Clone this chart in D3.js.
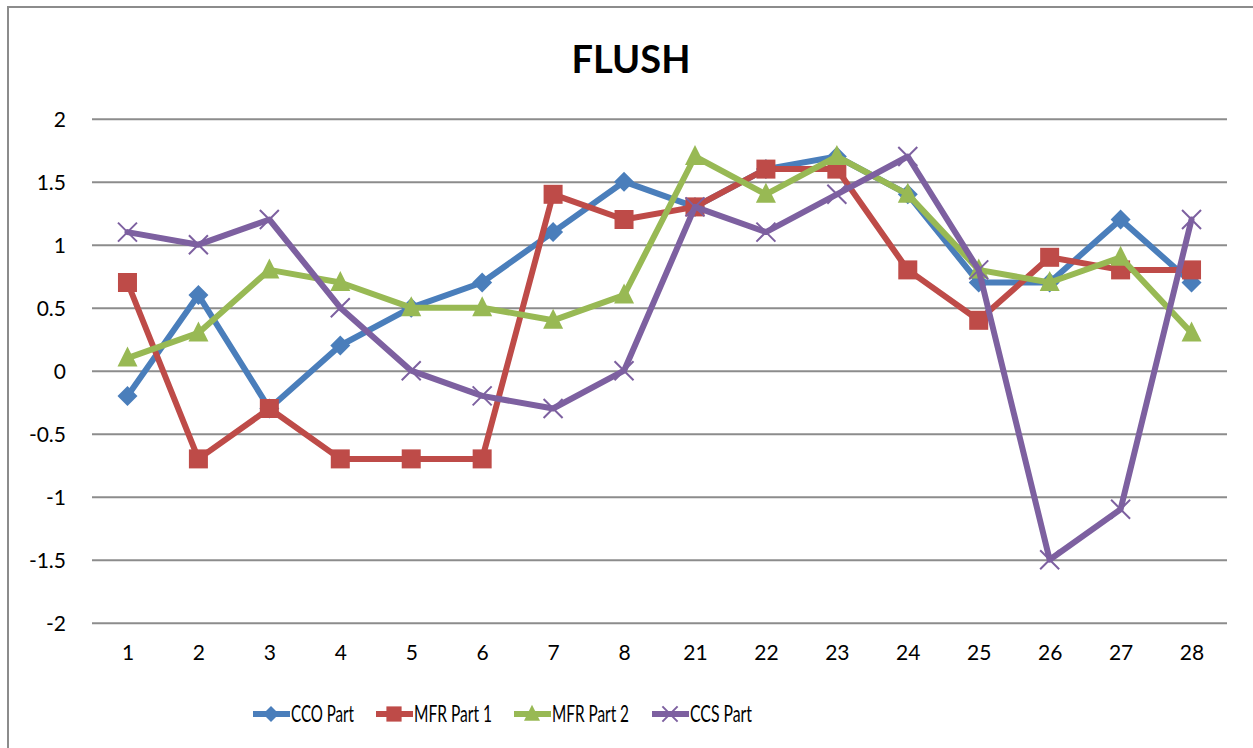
<!DOCTYPE html>
<html>
<head>
<meta charset="utf-8">
<script src="https://cdn.jsdelivr.net/npm/d3@7"></script>
<style>
  body { margin: 0; background: #fff; }
  text { font-family: Lato, "Open Sans", sans-serif; fill: #000; }
</style>
</head>
<body>
<svg id="chart" width="1253" height="748"></svg>
<script>
const categories = ['1', '2', '3', '4', '5', '6', '7', '8', '21', '22', '23', '24', '25', '26', '27', '28'];
const ccoPart  = [-0.2, 0.6, -0.3, 0.2, 0.5, 0.7, 1.1, 1.5, 1.3, 1.6, 1.7, 1.4, 0.7, 0.7, 1.2, 0.7];
const mfrPart1 = [0.7, -0.7, -0.3, -0.7, -0.7, -0.7, 1.4, 1.2, 1.3, 1.6, 1.6, 0.8, 0.4, 0.9, 0.8, 0.8];
const mfrPart2 = [0.1, 0.3, 0.8, 0.7, 0.5, 0.5, 0.4, 0.6, 1.7, 1.4, 1.7, 1.4, 0.8, 0.7, 0.9, 0.3];
const ccsPart  = [1.1, 1.0, 1.2, 0.5, 0.0, -0.2, -0.3, 0.0, 1.3, 1.1, 1.4, 1.7, 0.8, -1.5, -1.1, 1.2];
const yTicks = [-2, -1.5, -1, -0.5, 0, 0.5, 1, 1.5, 2];

const series = [
  {name: 'CCO Part', values: ccoPart, color: '#4A7EBB', marker: 'diamond'},
  {name: 'MFR Part 1', values: mfrPart1, color: '#BE4B48', marker: 'square'},
  {name: 'MFR Part 2', values: mfrPart2, color: '#98B954', marker: 'triangle'},
  {name: 'CCS Part', values: ccsPart, color: '#7D60A0', marker: 'cross'}
];

const svg = d3.select('#chart');
const plot = {left: 92, right: 1227, top: 118.7, bottom: 622.7};

// outer chart border (only top and left visible in frame)
svg.append('path')
  .attr('d', 'M8,748 V7 H1253')
  .attr('fill', 'none')
  .attr('stroke', '#8c8c8c')
  .attr('stroke-width', 2);

svg.append('text')
  .attr('x', 631)
  .attr('y', 73)
  .attr('text-anchor', 'middle')
  .style('font-size', '38px')
  .style('font-weight', 'bold')
  .text('FLUSH');

const x = d3.scalePoint()
  .domain(categories)
  .range([plot.left, plot.right])
  .padding(0.5);

const y = d3.scaleLinear()
  .domain([-2, 2])
  .range([plot.bottom, plot.top]);

// gridlines + y labels
const yAxis = d3.axisLeft(y)
  .tickValues(yTicks)
  .tickSize(-(plot.right - plot.left))
  .tickPadding(26)
  .tickFormat(d => d3.format('')(d).replace('−', '-'));

svg.append('g')
  .attr('transform', 'translate(' + plot.left + ',0)')
  .call(yAxis)
  .call(g => g.select('.domain').remove())
  .call(g => g.selectAll('line').attr('stroke', '#8c8c8c').attr('stroke-width', 2))
  .call(g => g.selectAll('text').style('font-size', '21px').attr('dy', '0.35em'));

const xAxis = d3.axisBottom(x).tickSize(0).tickPadding(22);
svg.append('g')
  .attr('transform', 'translate(0,' + plot.bottom + ')')
  .call(xAxis)
  .call(g => g.select('.domain').remove())
  .call(g => g.selectAll('text').style('font-size', '21px'));

function drawMarker(g, type, color, r) {
  if (type === 'diamond') {
    g.append('path').attr('d', `M0,${-r} L${r},0 L0,${r} L${-r},0 Z`).attr('fill', color);
  } else if (type === 'square') {
    g.append('rect').attr('x', -r * 0.95).attr('y', -r * 0.95)
      .attr('width', r * 1.9).attr('height', r * 1.9).attr('fill', color);
  } else if (type === 'triangle') {
    g.append('path').attr('d', `M0,${-r * 1.15} L${r},${r * 0.85} L${-r},${r * 0.85} Z`).attr('fill', color);
  } else {
    const c = r * 0.95;
    g.append('path').attr('d', `M${-c},${-c} L${c},${c} M${-c},${c} L${c},${-c}`)
      .attr('stroke', color).attr('stroke-width', 2).attr('fill', 'none');
  }
}

const line = d3.line()
  .x((d, i) => x(categories[i]))
  .y(d => y(d));

series.forEach(s => {
  svg.append('path')
    .datum(s.values)
    .attr('d', line)
    .attr('fill', 'none')
    .attr('stroke', s.color)
    .attr('stroke-width', 6)
    .attr('stroke-linejoin', 'round')
    .attr('stroke-linecap', 'round');

  s.values.forEach((v, i) => {
    const g = svg.append('g')
      .attr('transform', 'translate(' + x(categories[i]) + ',' + y(v) + ')');
    drawMarker(g, s.marker, s.color, 10);
  });
});

// legend
const legendX = [253, 376, 514, 652];
const legendW = [63, 78, 77, 62];
const legendY = 714;
series.forEach((s, i) => {
  const g = svg.append('g').attr('transform', 'translate(' + legendX[i] + ',' + legendY + ')');
  g.append('line')
    .attr('x1', 0).attr('x2', 37)
    .attr('y1', 0).attr('y2', 0)
    .attr('stroke', s.color)
    .attr('stroke-width', 6);
  const m = g.append('g').attr('transform', 'translate(18,0)');
  drawMarker(m, s.marker, s.color, 8);
  g.append('text')
    .attr('x', 38)
    .attr('y', 0)
    .attr('dy', '0.35em')
    .attr('textLength', legendW[i])
    .attr('lengthAdjust', 'spacingAndGlyphs')
    .style('font-size', '23px')
    .text(s.name);
});
</script>
</body>
</html>
